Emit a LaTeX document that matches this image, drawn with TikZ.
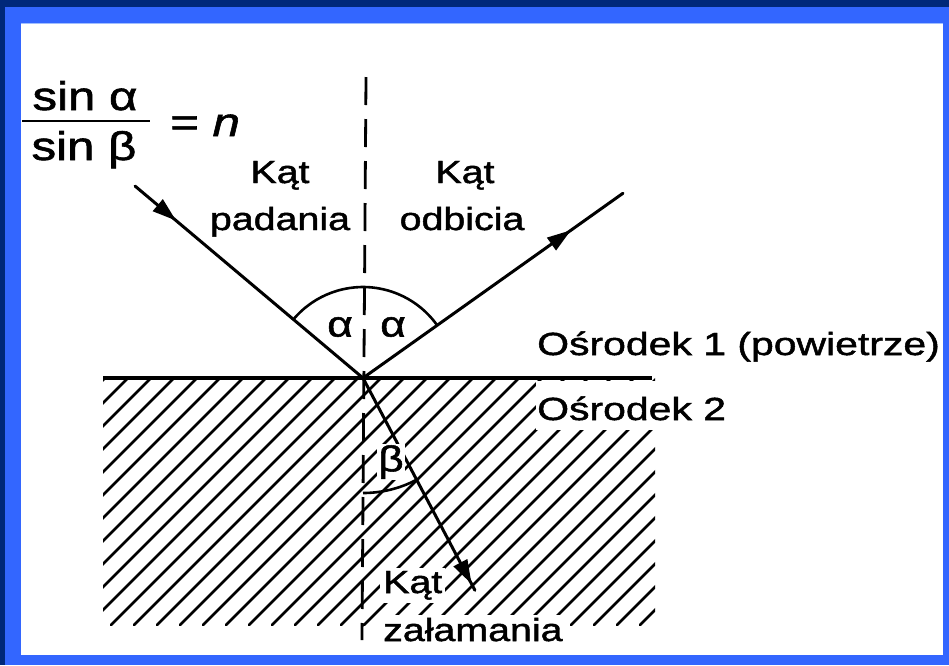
\documentclass[tikz,border=0pt]{standalone}
\usepackage{fontspec}
\setmainfont{Liberation Sans}[FakeStretch=1.23,FakeBold=1.5]
\usetikzlibrary{decorations.markings,arrows.meta,calc}
\definecolor{navy}{HTML}{00287A}
\definecolor{frameblue}{HTML}{3366FF}
\definecolor{edgeblue}{HTML}{A0BEFF}
\tikzset{
  ray/.style={line width=3pt, line cap=round},
  hatchline/.style={line width=2.6pt, line cap=round},
  normalline/.style={line width=2.8pt, dash pattern=on 28pt off 14pt},
  lbl/.style={inner sep=0pt, font=\fontsize{32}{38}\selectfont},
  frac/.style={inner sep=0pt, font=\fontsize{40}{48}\selectfont},
  greek/.style={inner sep=1pt, font=\fontsize{36}{40}\selectfont},
  midarrow/.style={postaction={decorate}, decoration={markings,
    mark=at position #1 with {\arrow{Triangle[length=24pt,width=15pt]}}}}
}
\begin{document}
\begin{tikzpicture}[x=1pt,y=-1pt]
\useasboundingbox (0,0) rectangle (949,665);
% frame
\fill[frameblue] (0,0) rectangle (949,665);
\fill[navy] (0,0) rectangle (949,7);
\fill[navy] (0,0) rectangle (5,665);
\fill[white] (21,23) rectangle (943,655);
\draw[edgeblue, line width=1pt] (21,23.5) -- (943,23.5);

% key points
\coordinate (O) at (363,378);
\coordinate (A) at ($(O)+(-139.9:298)$);
\coordinate (B) at ($(O)+(-35.4:319)$);
\coordinate (C) at ($(O)+(62.2:240)$);
\coordinate (IL) at (103,378);
\coordinate (IR) at (652,378);
\coordinate (NT) at (366,77);
\coordinate (NB) at (362,640);

% hatching of medium 2
\begin{scope}
  \clip (103,378) rectangle (655,625);
  \foreach \c in {483,506,...,1300} {
    \draw[hatchline] (\c-625,625) -- (\c-378,378);
  }
\end{scope}
\fill[white] (536,381) rectangle (660,430);

% interface and normal
\draw[line width=3.4pt] (IL) -- (IR);
\draw[normalline] (NT) -- (NB);

% rays
\draw[ray, midarrow=0.18] (A) -- (O);
\draw[ray, midarrow=0.80] (O) -- (B);
\draw[ray, midarrow=0.97] (O) -- (C);

% angle arcs
\draw[line width=2.6pt] (O) ++(-139.9:91) arc[start angle=-139.9, end angle=-35.4, radius=91];
\draw[line width=2.6pt] (O) ++(62.2:115) arc[start angle=62.2, end angle=90, radius=115];

% Greek angle labels
\node[greek] (a1) at (340,327) {α};
\node[greek] (a2) at (393,327) {α};
\node[greek, fill=white] (b1) at (391,462) {β};

% formula
\node[frac, anchor=base] (num) at (85,110) {sin α};
\node[frac, anchor=base] (den) at (84,160) {sin β};
\coordinate (barL) at (22,121);
\coordinate (barR) at (150,121);
\draw[line width=2.8pt] (barL) -- (barR);
\node[frac, anchor=base west] (eq) at (170,136) {= \textit{n}};

% labels
\node[lbl, anchor=base] (kp1) at (280,183) {Kąt};
\node[lbl, anchor=base] (kp2) at (280,230) {padania};
\node[lbl, anchor=base] (ko1) at (465,183) {Kąt};
\node[lbl, anchor=base] (ko2) at (462,230) {odbicia};
\node[lbl, anchor=base west, xscale=1.04] (m1) at (537,355) {Ośrodek 1 (powietrze)};
\node[lbl, anchor=base west, xscale=1.04] (m2) at (537,420) {Ośrodek 2};
\node[lbl, anchor=base west, fill=white, inner sep=3pt] (kz1) at (380,593) {Kąt};
\node[lbl, anchor=base west, fill=white, inner sep=3pt] (kz2) at (380,641) {załamania};
\end{tikzpicture}
\end{document}
